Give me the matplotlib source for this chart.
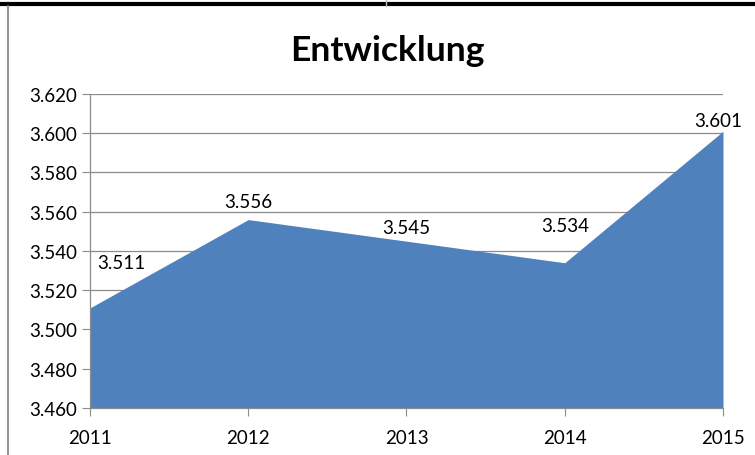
import matplotlib
matplotlib.use("Agg")
import matplotlib.pyplot as plt
from matplotlib.ticker import FuncFormatter

years = [2011, 2012, 2013, 2014, 2015]
values = [3511, 3556, 3545, 3534, 3601]
y_ticks = list(range(3460, 3621, 20))
# label offsets in points (dx, dy), roughly where Excel put them
label_offsets = [(5, 29), (0, 9), (0, 6), (0, 23), (-3.5, 3.5)]

plt.rcParams['font.family'] = ['Lato', 'DejaVu Sans']

def de_fmt(v, pos=None):
    return f"{int(v):,}".replace(",", ".")

fig = plt.figure(figsize=(7.55, 4.56), dpi=100)
ax = fig.add_axes([0.1192, 0.1031, 0.8384, 0.6886])

ax.fill_between(years, values, 3460, color="#4F81BD", lw=0, zorder=2)
ax.set_xlim(2011, 2015)
ax.set_ylim(3460, 3620)
ax.set_yticks(y_ticks)
ax.set_xticks(years)
ax.yaxis.set_major_formatter(FuncFormatter(de_fmt))
ax.grid(axis="y", color="#8c8c8c", lw=0.9, zorder=1)
ax.set_axisbelow(True)

for s in ["top", "right"]:
    ax.spines[s].set_visible(False)
for s in ["left", "bottom"]:
    ax.spines[s].set_color("#8c8c8c")
    ax.spines[s].set_linewidth(0.9)
ax.tick_params(axis="y", length=6, color="#8c8c8c", labelsize=13.5, pad=3)
ax.tick_params(axis="x", length=6, color="#8c8c8c", labelsize=13.5, pad=9)

for i, (x, v) in enumerate(zip(years, values)):
    ha = "left" if i == 0 else "center"
    ax.annotate(de_fmt(v), xy=(x, v), xytext=label_offsets[i],
                textcoords="offset points", ha=ha, va="baseline", fontsize=13.5)

fig.text(0.513, 0.866, "Entwicklung", ha="center", va="baseline",
         fontsize=25.5, fontweight="bold")

# cell borders from the spreadsheet screenshot
fig.add_artist(plt.Line2D([0, 1], [0.99, 0.99], color="black", lw=3))
fig.add_artist(plt.Line2D([0.0106, 0.0106], [0, 0.985], color="#7f7f7f", lw=1.2))
fig.add_artist(plt.Line2D([0.511, 0.511], [0.985, 1], color="#bfbfbf", lw=1))

fig.savefig("out.png", dpi=100)
